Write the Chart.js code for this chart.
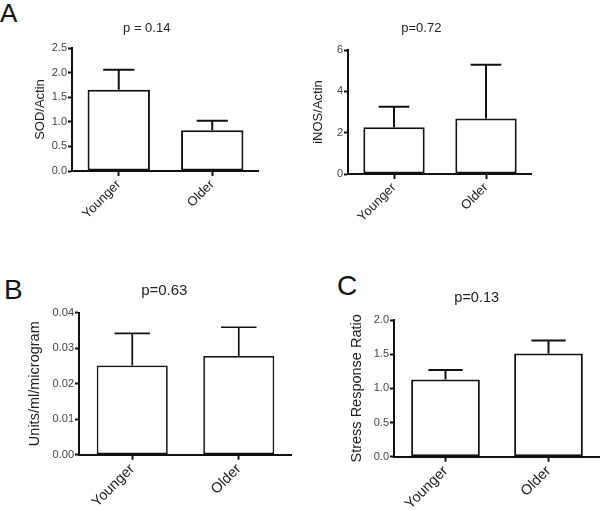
<!DOCTYPE html>
<html>
<head>
<meta charset="utf-8">
<script src="https://cdn.jsdelivr.net/npm/chart.js@4"></script>
<style>
  body { margin: 0; background: #fff; }
  #wrap { position: relative; width: 600px; height: 511px; overflow: hidden; }
  canvas { position: absolute; }
  .tag { position: absolute; font-family: 'Liberation Sans', Arial, sans-serif; line-height: 1; color: #111; }
</style>
</head>
<body>
<div id="wrap">
  <div class="tag" style="left:0px;top:0px;font-size:26px">A</div>
  <div class="tag" style="left:4px;top:276px;font-size:28px">B</div>
  <div class="tag" style="left:337px;top:272px;font-size:28px">C</div>
  <canvas id="sod" width="239" height="220" style="left:20px;top:10px"></canvas>
  <canvas id="inos" width="232" height="220" style="left:300px;top:10px"></canvas>
  <canvas id="enz" width="282" height="246" style="left:10px;top:265px"></canvas>
  <canvas id="stress" width="260" height="246" style="left:340px;top:265px"></canvas>
</div>
<script>
// values (mean, SEM)
const groups = ['Younger', 'Older'];

const sodMean = [1.65, 0.83];
const sodErr = [0.41, 0.19];

const inosMean = [2.26, 2.69];
const inosErr = [1.00, 2.60];

const enzMean = [0.0251, 0.0278];
const enzErr = [0.0091, 0.0081];

const stressMean = [1.13, 1.51];
const stressErr = [0.14, 0.19];

Chart.defaults.font.family = "'Liberation Sans', Arial, sans-serif";
Chart.defaults.color = '#222';

const ink = '#111';

// upper error bar only, like the prism plots
const errorBars = {
    id: 'errorBars',
    afterDatasetsDraw(chart, args, opts) {
        const ctx = chart.ctx;
        const y = chart.scales.y;
        const ds = chart.data.datasets[0];
        chart.getDatasetMeta(0).data.forEach(function(bar, i){
            const top = y.getPixelForValue(ds.data[i] + opts.errors[i]);
            const half = bar.width * 0.25;
            ctx.save();
            ctx.strokeStyle = ink;
            ctx.lineWidth = opts.width || 2;
            ctx.beginPath();
            ctx.moveTo(bar.x, bar.y);
            ctx.lineTo(bar.x, top);
            ctx.moveTo(bar.x - half, top);
            ctx.lineTo(bar.x + half, top);
            ctx.stroke();
            ctx.restore();
        });
    }
};

function panel(id, means, errs, yMax, step, dec, yTitle, pText, lay){
    const config = {
        type: 'bar',
        data: {
            labels: groups,
            datasets: [{
                data: means,
                backgroundColor: '#fff',
                borderColor: ink,
                borderWidth: lay.line,
                borderSkipped: false,
                categoryPercentage: 1,
                barPercentage: 0.667
            }]
        },
        options: {
            responsive: false,
            animation: false,
            layout: { padding: { left: lay.padLeft, right: 0, top: 0, bottom: 0 } },
            plugins: {
                legend: { display: false },
                tooltip: { enabled: false },
                title: {
                    display: true,
                    text: pText,
                    color: '#222',
                    font: { size: lay.titleSize, weight: 'normal' },
                    padding: { top: lay.titleTop, bottom: lay.titleBottom }
                },
                errorBars: { errors: errs, width: lay.line }
            },
            scales: {
                x: {
                    grid: { drawOnChartArea: false, drawTicks: true, offset: false, tickLength: 5, tickWidth: 2, tickColor: ink },
                    border: { display: true, color: ink, width: 2 },
                    ticks: { minRotation: 45, maxRotation: 45, padding: 1, color: '#222', font: { size: lay.xSize } },
                    afterFit: function(s){ s.height = lay.xH; }
                },
                y: {
                    min: 0,
                    max: yMax,
                    grid: { drawOnChartArea: false, drawTicks: true, tickLength: 4, tickWidth: 2, tickColor: ink },
                    border: { display: true, color: ink, width: 2 },
                    ticks: {
                        stepSize: step,
                        padding: 1,
                        color: '#444',
                        font: { size: 11 },
                        callback: function(v){ return Number(v).toFixed(dec); }
                    },
                    title: {
                        display: true,
                        text: yTitle,
                        color: '#222',
                        font: { size: lay.yTitleSize, lineHeight: 1.2 },
                        padding: { top: lay.yTitlePad, bottom: 0 }
                    },
                    afterFit: function(s){ s.width = lay.yW; }
                }
            }
        },
        plugins: [errorBars]
    };
    return new Chart(document.getElementById(id), config);
}

panel('sod', sodMean, sodErr, 2.5, 0.5, 1, 'SOD/Actin', 'p = 0.14', {
    padLeft: 14.5, yW: 37.5, yTitlePad: -2.3, titleTop: 10.7, titleBottom: 11.7,
    xH: 59, titleSize: 13, yTitleSize: 13, xSize: 13, line: 2
});
panel('inos', inosMean, inosErr, 6, 2, 0, 'iNOS/Actin', 'p=0.72', {
    padLeft: 10.6, yW: 37.4, yTitlePad: -0.4, titleTop: 10.7, titleBottom: 13.7,
    xH: 56, titleSize: 13, yTitleSize: 13, xSize: 13, line: 2
});
panel('enz', enzMean, enzErr, 0.04, 0.01, 2, 'Units/ml/microgram', 'p=0.63', {
    padLeft: 26.6, yW: 42.4, yTitlePad: -10.3, titleTop: 17, titleBottom: 12.7,
    xH: 56.3, titleSize: 15, yTitleSize: 14.5, xSize: 14.5, line: 1.7
});
panel('stress', stressMean, stressErr, 2, 0.5, 1, 'Stress Response Ratio', 'p=0.13', {
    padLeft: 13.4, yW: 40.6, yTitlePad: -5.6, titleTop: 23.8, titleBottom: 13.8,
    xH: 54.3, titleSize: 14.5, yTitleSize: 14.5, xSize: 14.5, line: 2
});
</script>
</body>
</html>
